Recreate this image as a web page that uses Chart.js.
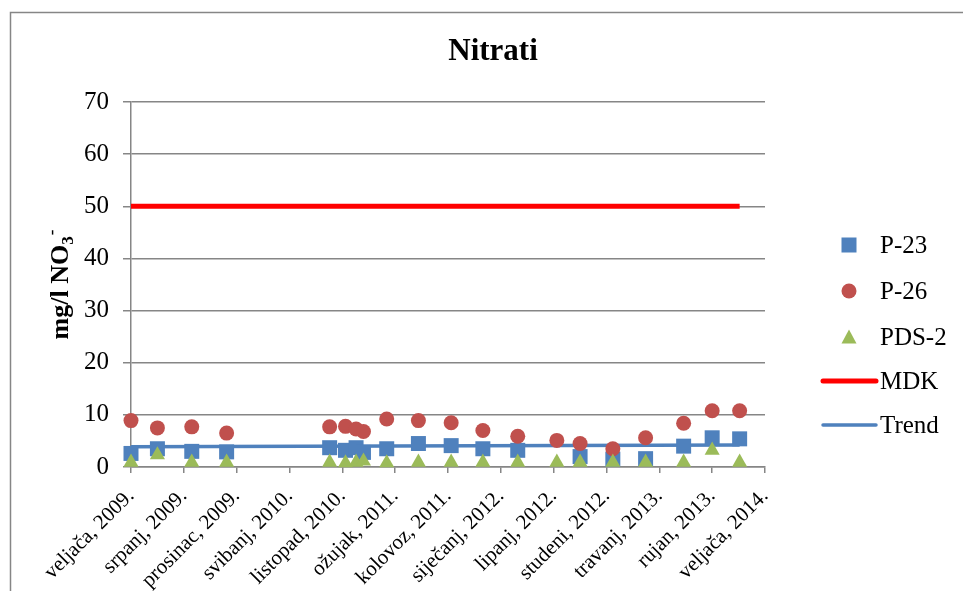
<!DOCTYPE html>
<html><head><meta charset="utf-8">
<script src="https://cdn.jsdelivr.net/npm/chart.js@4.4.1/dist/chart.umd.min.js"></script>
<style>html,body{margin:0;padding:0;background:#fff;}canvas{display:block;}</style>
</head><body>
<canvas id="c" width="963" height="591"></canvas>
<script>
// ---- data ----
const chartTitle = 'Nitrati';
const tickLabels = ['veljača, 2009.','srpanj, 2009.','prosinac, 2009.','svibanj, 2010.','listopad, 2010.','ožujak, 2011.','kolovoz, 2011.','siječanj, 2012.','lipanj, 2012.','studeni, 2012.','travanj, 2013.','rujan, 2013.','veljača, 2014.'];
// sample dates as month offsets from veljača 2009
const sampleMonths = [0.0, 2.5, 5.75, 9.05, 18.8, 20.3, 21.3, 22.0, 24.2, 27.2, 30.3, 33.3, 36.6, 40.3, 42.5, 45.6, 48.7, 52.3, 55.0, 57.6];
const p23  = [2.6, 3.5, 3.0, 2.9, 3.7, 3.2, 3.7, 2.8, 3.5, 4.5, 4.1, 3.5, 3.2, null, 2.0, 1.5, 1.6, 4.0, 5.6, 5.4];
const p26  = [8.9, 7.5, 7.7, 6.5, 7.7, 7.8, 7.3, 6.8, 9.2, 8.9, 8.5, 7.0, 5.9, 5.1, 4.5, 3.5, 5.6, 8.4, 10.8, 10.8];
const pds2 = [0.9, 2.3, 0.9, 0.9, 0.9, 0.8, 0.9, 1.1, 0.8, 0.9, 0.9, 0.9, 0.9, 0.9, 0.9, 0.9, 0.9, 0.9, 3.2, 0.9];
const lineMonths = [0, 57.6];
const mdkValues = [50, 50];
const trendValues = [3.9, 4.2];
const seriesNames = ['P-23', 'P-26', 'PDS-2', 'MDK', 'Trend'];

function pts(xs, ys) {
  const out = [];
  xs.forEach((x, i) => { if (ys[i] !== null) out.push({x: x, y: ys[i]}); });
  return out;
}

const FONT = "'Liberation Serif', 'Times New Roman', serif";
Chart.defaults.font.family = FONT;
Chart.defaults.color = '#000';
const GRID = '#868686';

const decor = {
  id: 'decor',
  afterDraw(chart) {
    const ctx = chart.ctx;
    const ca = chart.chartArea;
    ctx.save();
    // outer frame
    ctx.strokeStyle = GRID; ctx.lineWidth = 1.5;
    ctx.beginPath(); ctx.moveTo(10.5, 591); ctx.lineTo(10.5, 12.5); ctx.lineTo(963, 12.5); ctx.stroke();
    // title
    ctx.fillStyle = '#000';
    ctx.font = 'bold 31px ' + FONT;
    ctx.textAlign = 'center'; ctx.textBaseline = 'alphabetic';
    ctx.fillText(chartTitle, 493, 60);
    // y axis title with sub/superscript
    const cy = (ca.top + ca.bottom) / 2;
    ctx.translate(68, cy);
    ctx.rotate(-Math.PI / 2);
    ctx.textAlign = 'left';
    const fMain = 'bold 26px ' + FONT, fSmall = 'bold 17px ' + FONT;
    ctx.font = fMain; const w1 = ctx.measureText('mg/l NO').width;
    ctx.font = fSmall; const w2 = ctx.measureText('3').width; const w3 = ctx.measureText('-').width;
    let x0 = -(w1 + w2 + w3 + 1) / 2;
    ctx.font = fMain; ctx.fillText('mg/l NO', x0, 0);
    ctx.font = fSmall; ctx.fillText('3', x0 + w1, 5);
    ctx.fillText('-', x0 + w1 + w2 + 1, -11);
    ctx.restore();

    // legend
    const ds = chart.data.datasets;
    const ys = [245, 291, 337, 381, 425];
    const mx = 849, tx = 880;
    ctx.save();
    ctx.font = '25px ' + FONT; ctx.textAlign = 'left'; ctx.textBaseline = 'middle';
    seriesNames.forEach((name, i) => {
      const d = ds.find(s => s.label === name);
      const y = ys[i];
      ctx.fillStyle = d.backgroundColor; ctx.strokeStyle = d.borderColor;
      if (d.pointStyle === 'rect') {
        ctx.fillRect(mx - 7.5, y - 7.5, 15, 15);
      } else if (d.pointStyle === 'circle') {
        ctx.beginPath(); ctx.arc(mx, y, 7.5, 0, Math.PI * 2); ctx.fill();
      } else if (d.pointStyle === 'triangle') {
        ctx.beginPath(); ctx.moveTo(mx, y - 7.5); ctx.lineTo(mx + 7.5, y + 6.5); ctx.lineTo(mx - 7.5, y + 6.5); ctx.closePath(); ctx.fill();
      } else {
        ctx.lineWidth = d.borderWidth; ctx.lineCap = 'round';
        ctx.beginPath(); ctx.moveTo(823, y); ctx.lineTo(876, y); ctx.stroke();
      }
      ctx.fillStyle = '#000';
      ctx.fillText(name, tx, y + 1);
    });
    ctx.restore();
  }
};

new Chart(document.getElementById('c'), {
  type: 'scatter',
  data: {
    datasets: [
      {label: 'P-23', data: pts(sampleMonths, p23), pointStyle: 'rect', pointRadius: 10.6, pointHoverRadius: 10.6,
       backgroundColor: '#4F81BD', borderColor: '#4F81BD', borderWidth: 0, order: 2, clip: false},
      {label: 'P-26', data: pts(sampleMonths, p26), pointStyle: 'circle', pointRadius: 7.5, pointHoverRadius: 7.5,
       backgroundColor: '#C0504D', borderColor: '#C0504D', borderWidth: 0, order: 1, clip: false},
      {label: 'PDS-2', data: pts(sampleMonths, pds2), pointStyle: 'triangle', pointRadius: 8.7, pointHoverRadius: 8.7,
       backgroundColor: '#9BBB59', borderColor: '#9BBB59', borderWidth: 0, order: 0, clip: false},
      {label: 'MDK', data: pts(lineMonths, mdkValues), showLine: true, pointRadius: 0, pointStyle: 'line',
       borderColor: '#FF0000', backgroundColor: '#FF0000', borderWidth: 5, order: 3, clip: false},
      {label: 'Trend', data: pts(lineMonths, trendValues), showLine: true, pointRadius: 0, pointStyle: 'line',
       borderColor: '#4F81BD', backgroundColor: '#4F81BD', borderWidth: 3.5, order: 4, clip: false}
    ]
  },
  options: {
    responsive: false, animation: false, devicePixelRatio: 1,
    layout: {padding: {left: 10, right: 198, top: 102, bottom: 0}},
    plugins: {legend: {display: false}, title: {display: false}, tooltip: {enabled: false}},
    events: [],
    scales: {
      x: {
        type: 'linear', min: 0, max: 60,
        afterFit(s) { s.height = 124; },
        ticks: {stepSize: 5, autoSkip: false, minRotation: 45, maxRotation: 45, padding: 11,
                font: {size: 21}, color: '#000',
                callback: (v) => tickLabels[Math.round(v / 5)]},
        grid: {drawOnChartArea: false, tickLength: 6, color: GRID, lineWidth: 1.5},
        border: {color: GRID, width: 1.5}
      },
      y: {
        min: 0, max: 70,
        afterFit(s) { s.width = 121; },
        ticks: {stepSize: 10, padding: 14, font: {size: 25}, color: '#000'},
        grid: {color: GRID, lineWidth: 1.5, tickLength: 8},
        border: {color: GRID, width: 1.5}
      }
    }
  },
  plugins: [decor]
});
</script>
</body></html>
